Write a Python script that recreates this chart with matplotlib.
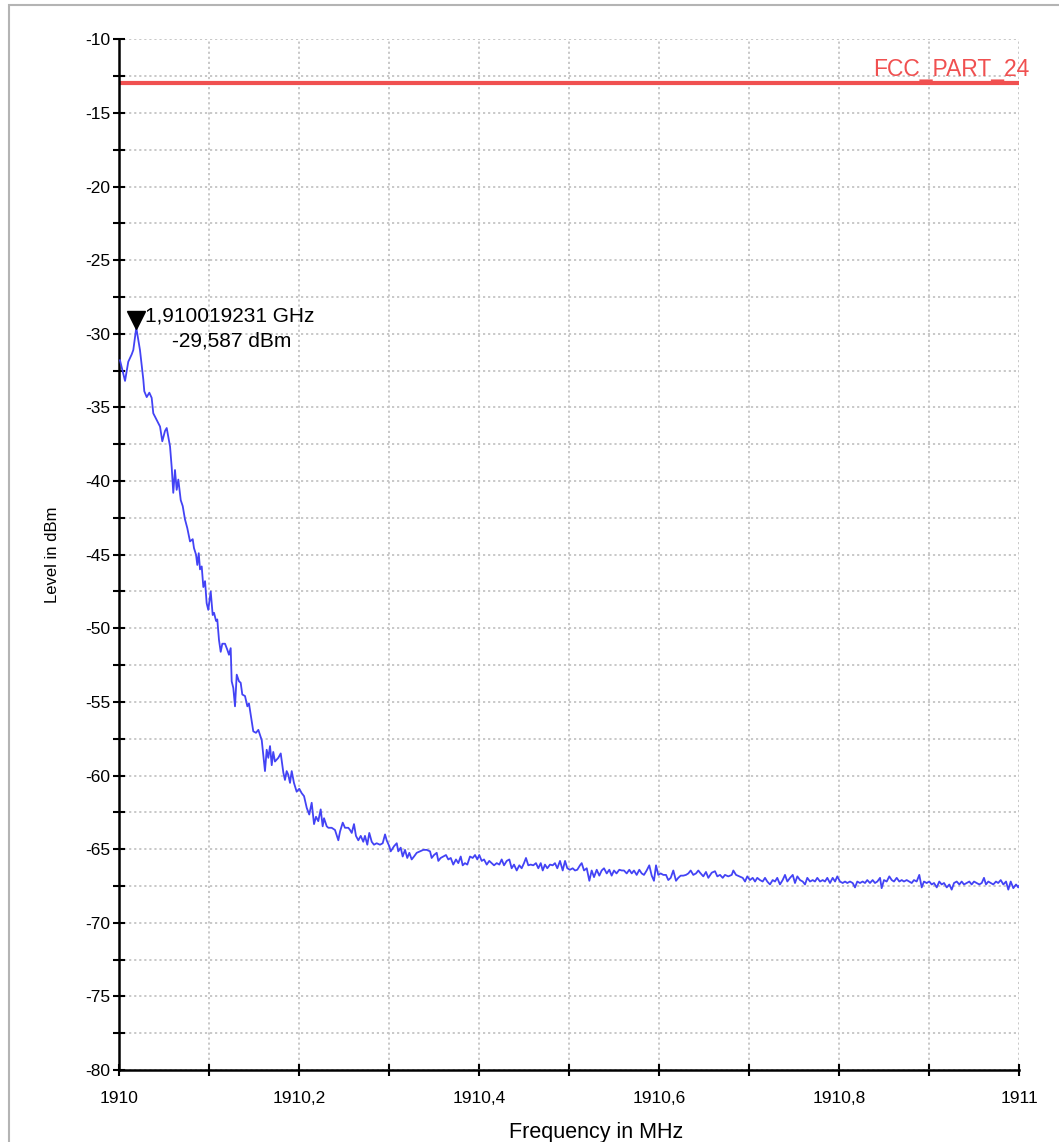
import numpy as np
import matplotlib
matplotlib.use("Agg")
import matplotlib.pyplot as plt
from matplotlib.patches import Rectangle
from matplotlib.ticker import MultipleLocator, FixedLocator, FixedFormatter
import matplotlib.transforms as mtransforms

plt.rcParams['font.family'] = ['Liberation Sans', 'DejaVu Sans']

# Trace: frequency offset from 1910 MHz in kHz, and level in dBm
freq_offset_khz = [
    1.1, 6.7, 10.3, 14.1, 15.9, 19.2, 23.3, 27.0, 28.1, 30.8, 33.7, 36.3, 38.1, 41.9, 45.6, 48.1,
    51.1, 53.0, 56.7, 58.6, 60.3, 62.2, 64.1, 65.9, 68.6, 70.8, 73.3, 75.9, 78.9, 81.9, 83.3, 85.6,
    87.0, 88.6, 90.0, 91.9, 93.7, 95.6, 97.4, 99.2, 101.9, 104.1, 105.6, 107.8, 109.2, 111.1, 113.0,
    114.8, 117.8, 120.3, 122.2, 124.1, 125.2, 127.0, 128.9, 130.8, 133.3, 135.2, 137.0, 140.0, 142.6,
    144.4, 147.4, 149.2, 152.2, 154.8, 158.6, 162.2, 164.1, 165.9, 167.8, 169.7, 171.4, 173.3, 177.0,
    179.7, 182.6, 184.4, 186.3, 188.1, 190.0, 191.9, 194.4, 197.4, 200.3, 203.0, 205.6, 208.6, 211.4,
    214.1, 216.7, 218.9, 221.4, 224.1, 226.3, 227.8, 230.8, 232.6, 236.3, 240.0, 243.7, 245.6, 248.6,
    251.1, 254.8, 256.7, 258.6, 261.1, 263.3, 265.9, 268.6, 271.4, 273.3, 275.9, 278.1, 280.8, 283.3,
    286.3, 290.0, 293.0, 295.6, 297.4, 300.3,
    301.9, 305.6, 308.6, 310.3, 313.0, 315.2, 317.8, 320.3, 322.6, 325.2, 327.8, 330.8, 334.4, 338.1,
    341.9, 345.6, 347.4, 350.0, 353.0, 354.8, 357.4, 360.3, 363.3, 365.9, 368.6, 371.4, 374.4, 377.0,
    379.7, 381.9, 384.4, 387.0, 390.0, 393.0, 395.6, 398.1, 400.3, 403.0, 405.6, 408.6, 411.4, 414.1,
    416.7, 419.7, 422.6, 425.2, 427.8, 430.8, 433.7, 436.3, 438.9, 441.9, 444.8, 447.4, 450.0, 452.2,
    454.8, 457.4, 460.3, 463.3, 465.9, 468.6, 470.8, 473.3, 475.9, 478.9, 481.9, 484.4, 487.0, 490.0,
    493.0, 495.6, 498.1, 501.1, 504.1, 506.7, 509.2, 512.2, 514.1, 516.7, 519.7, 522.6, 525.2, 527.8,
    530.8, 533.7, 536.3, 538.9, 541.9, 544.8, 547.4, 550.0, 552.8, 555.9, 558.6, 561.1, 564.1, 567.0,
    569.7, 572.2, 575.2, 578.1, 580.8, 583.3, 586.3, 589.2, 591.9, 594.4, 596.7, 599.2, 601.9, 604.8,
    607.8, 610.3, 613.0, 615.9, 618.9, 621.4, 624.1, 627.0, 630.0, 632.6, 635.2, 638.1, 641.1, 643.7,
    645.6, 649.2, 652.2, 654.8, 658.6, 662.2, 664.8, 667.8, 670.8, 673.3, 677.0, 680.8, 682.6, 685.6,
    689.2, 693.0, 695.6, 698.1, 701.1, 704.1, 706.7, 709.2, 712.2, 715.2, 717.8, 720.3, 723.3, 726.3,
    728.9, 731.4, 734.4, 737.4, 740.0, 742.6, 745.6, 748.6, 751.1, 753.7, 756.7, 759.7, 762.2, 764.8,
    767.8, 770.8, 773.3, 775.9, 778.9, 781.9, 784.4, 787.0, 790.0, 793.0, 795.6, 798.1, 801.1, 804.1,
    806.7, 809.2, 812.2, 815.2, 817.8, 820.3, 823.3, 826.3, 828.9, 831.4, 834.4, 837.4, 840.0, 842.6,
    845.6, 847.4, 850.0, 853.0, 855.9, 858.6, 861.1, 864.1, 867.0, 869.7, 872.2, 875.2, 878.1, 880.8,
    883.3, 886.3, 889.2, 891.9, 894.4, 897.4, 900.3, 903.0, 905.6, 908.6, 911.4, 914.1, 916.7, 919.7,
    922.6, 925.2, 927.8, 930.8, 933.7, 936.3, 938.9, 941.9, 944.8, 947.4, 950.0, 953.0, 955.9, 958.6,
    961.1, 963.3, 965.9, 968.6, 971.4, 974.4, 976.9, 979.7, 982.6, 985.6, 988.1, 990.8, 993.7, 996.7,
    999.2, 1000.0,
]
level_dbm = [
    -31.8, -33.2, -31.9, -31.4, -31.1, -29.587, -31.1, -33.1, -33.9, -34.3, -34.0, -34.35, -35.4, -35.85, -36.3, -37.3,
    -36.6, -36.4, -37.65, -39.1, -40.8, -39.25, -40.6, -39.9, -41.3, -41.7, -42.6, -43.2, -44.1, -43.95, -44.55, -45.0,
    -45.7, -44.9, -46.0, -45.8, -47.2, -46.8, -48.3, -48.75, -47.5, -49.1, -48.95, -49.5, -49.4, -50.8, -51.6,
    -51.05, -51.05, -51.45, -51.8, -51.35, -53.6, -54.05, -55.3, -53.15, -53.6, -53.7, -54.5, -54.6, -55.3,
    -55.1, -56.3, -57.0, -57.1, -56.9, -57.6, -59.7, -58.25, -58.8, -58.0, -59.3, -58.4, -59.05, -58.8,
    -58.5, -59.8, -60.3, -59.7, -59.95, -60.5, -59.7, -60.5, -61.1, -60.9, -61.2, -61.4, -62.2, -62.65,
    -61.85, -63.3, -62.8, -63.1, -62.3, -63.45, -62.9, -63.45, -63.55, -63.55, -63.7, -64.4, -63.8, -63.2,
    -63.55, -63.55, -63.7, -63.9, -63.3, -64.1, -64.4, -64.1, -64.5, -64.1, -64.7, -63.9, -64.5, -64.7,
    -64.6, -64.7, -64.6, -64.0, -64.4, -64.8,
    -65.15, -64.8, -64.6, -65.15, -64.9, -65.5, -65.05, -65.6, -65.25, -65.7, -65.5, -65.25, -65.15, -65.05,
    -65.05, -65.15, -65.6, -65.4, -65.25, -65.8, -65.6, -65.5, -65.4, -65.7, -65.6, -66.05, -65.7, -65.95,
    -65.5, -66.1, -65.95, -66.05, -65.5, -65.6, -65.4, -65.7, -65.4, -65.8, -65.7, -66.05, -65.8, -65.95,
    -66.1, -65.95, -66.05, -65.7, -66.1, -65.8, -65.7, -66.3, -66.05, -66.45, -66.1, -66.3, -65.95, -65.6,
    -66.1, -66.05, -66.1, -65.95, -66.3, -65.95, -66.45, -66.05, -66.3, -66.05, -66.1, -65.95, -66.3, -65.8,
    -66.45, -65.8, -66.3, -66.4, -66.3, -66.45, -66.4, -66.1, -65.95, -66.45, -66.3, -67.15, -66.45, -66.9,
    -66.4, -66.8, -66.45, -66.3, -66.65, -66.4, -66.8, -66.45, -66.65, -66.4, -66.45, -66.45, -66.65, -66.4,
    -66.65, -66.45, -66.75, -66.4, -66.65, -66.75, -66.45, -66.1, -66.8, -67.15, -66.1, -66.75, -66.65, -66.75,
    -66.75, -67.1, -66.95, -66.45, -67.15, -66.95, -66.8, -66.8, -66.75, -66.65, -66.45, -66.75, -66.65, -66.45,
    -66.6, -66.85, -66.55, -66.95, -66.6, -66.5, -66.85, -66.75, -66.95, -66.75, -66.85, -66.75, -66.45, -66.75,
    -66.85, -66.95, -67.2, -66.85, -67.1, -66.95, -67.2, -66.95, -67.1, -67.2, -66.95, -67.2, -67.4, -67.1,
    -67.2, -66.95, -67.4, -67.1, -66.75, -67.2, -66.95, -66.75, -67.3, -66.85, -67.1, -67.2, -67.4, -66.95,
    -67.2, -67.1, -67.2, -66.95, -67.2, -67.1, -67.2, -66.95, -67.3, -66.95, -67.2, -66.85, -67.2, -67.3,
    -67.2, -67.3, -67.2, -67.3, -67.6, -67.2, -67.3, -67.2, -67.3, -67.1, -67.3, -67.1, -67.3, -67.2,
    -66.95, -67.65, -67.1, -67.2, -66.85, -67.1, -67.2, -66.95, -67.2, -67.1, -67.2, -67.1, -67.2, -67.3,
    -67.1, -67.2, -66.75, -67.6, -67.2, -67.3, -67.2, -67.4, -67.3, -67.6, -67.2, -67.4, -67.3, -67.6,
    -67.4, -67.75, -67.3, -67.2, -67.4, -67.2, -67.4, -67.3, -67.2, -67.4, -67.2, -67.3, -67.4, -67.3,
    -66.95, -67.4, -67.2, -67.3, -67.4, -67.2, -67.3, -67.1, -67.4, -67.2, -67.75, -67.2, -67.65, -67.4,
    -67.6, -67.5,
]

start_mhz = 1910.0
limit_name = "FCC_PART_24"
limit_dbm = -13.0
marker_freq_mhz = 1910.019231
marker_level_dbm = -29.587
marker_label_1 = "1,910019231 GHz"
marker_label_2 = "-29,587 dBm"

x_ticks = [1910.0, 1910.1, 1910.2, 1910.3, 1910.4, 1910.5, 1910.6, 1910.7, 1910.8, 1910.9, 1911.0]
x_tick_labels = ["1910", "", "1910,2", "", "1910,4", "", "1910,6", "", "1910,8", "", "1911"]
y_ticks = [-10, -15, -20, -25, -30, -35, -40, -45, -50, -55, -60, -65, -70, -75, -80]
y_tick_labels = ["-10", "-15", "-20", "-25", "-30", "-35", "-40", "-45", "-50",
                 "-55", "-60", "-65", "-70", "-75", "-80"]

W, H = 1059, 1142
fig = plt.figure(figsize=(W / 100, H / 100), dpi=100)
fig.patch.set_facecolor('white')

# outer frame (partially cropped on right/bottom)
fig.patches.append(Rectangle((8.5 / W, -0.1), 1.2, 1 - 5.0 / H + 0.1, transform=fig.transFigure,
                             fill=False, edgecolor='#b4b4b4', linewidth=1.5))

L, R, T, B = 119, 1019, 39.3, 1070
ax = fig.add_axes([L / W, 1 - B / H, (R - L) / W, (B - T) / H])

freqs = [start_mhz + f / 1000.0 for f in freq_offset_khz]
ax.plot(freqs, level_dbm, color='#4343f5', linewidth=1.3, zorder=3)
ax.axhline(limit_dbm, color='#f05050', linewidth=3.0, zorder=2)

ax.set_xlim(1910, 1911)
ax.set_ylim(-80, -10)

for s in ['top', 'right']:
    ax.spines[s].set_visible(False)
for s in ['left', 'bottom']:
    ax.spines[s].set_linewidth(1.8)
    ax.spines[s].set_color('black')

ax.xaxis.set_major_locator(FixedLocator(x_ticks))
ax.xaxis.set_major_formatter(FixedFormatter(x_tick_labels))
ax.yaxis.set_major_locator(FixedLocator(y_ticks))
ax.yaxis.set_major_formatter(FixedFormatter(y_tick_labels))
ax.yaxis.set_minor_locator(MultipleLocator(2.5))

ax.tick_params(axis='both', which='both', direction='inout', length=8, width=1.5, colors='black')
ax.tick_params(axis='x', labelsize=12.5, pad=11)
ax.tick_params(axis='y', labelsize=12.5, pad=2)

ax.grid(True, which='both', color='#c4c4c4', linestyle=(0, (1.2, 1.6)), linewidth=1.3)
ax.set_axisbelow(True)

ax.set_xlabel("Frequency in MHz", fontsize=15.5)
ax.xaxis.set_label_coords((596 - L) / (R - L), -(1122 - B) / (B - T))
ax.set_ylabel("Level in dBm", fontsize=12)
ax.yaxis.set_label_coords(-(L - 60) / (R - L), (B - 555) / (B - T))

# limit line label
ax.text(1910 + (873 - L) / 900.0, limit_dbm + 0.2, limit_name, color='#f05050', fontsize=16.5,
        ha='left', va='bottom', clip_on=False)

# marker
off = mtransforms.ScaledTranslation(0, 8 / 100, fig.dpi_scale_trans)
ax.plot([marker_freq_mhz], [marker_level_dbm], marker='v', color='black', markersize=13,
        transform=ax.transData + off, zorder=5, clip_on=False)
ax.text(1910 + (145 - L) / 900.0, -10 - (316 - T) / 14.73, marker_label_1, fontsize=15,
        ha='left', va='center')
ax.text(1910 + (172 - L) / 900.0, -10 - (341 - T) / 14.73, marker_label_2, fontsize=15,
        ha='left', va='center')

fig.savefig("out.png", dpi=100, facecolor='white')
